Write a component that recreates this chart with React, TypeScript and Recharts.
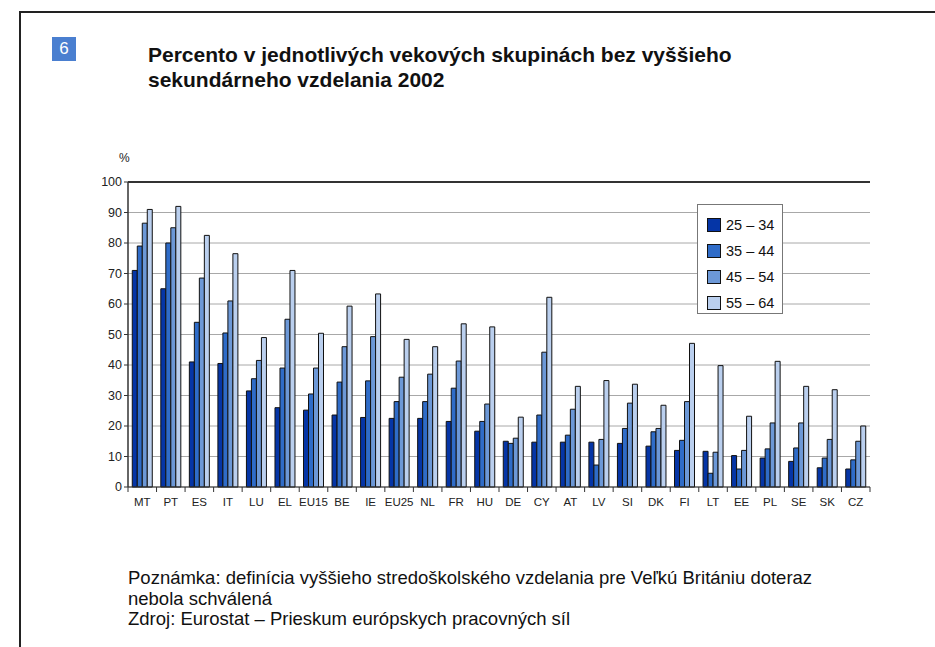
import { BarChart, Bar, XAxis, YAxis, CartesianGrid, Legend, ReferenceLine } from 'recharts'

const countries = ['MT', 'PT', 'ES', 'IT', 'LU', 'EL', 'EU15', 'BE', 'IE', 'EU25', 'NL', 'FR', 'HU', 'DE', 'CY', 'AT', 'LV', 'SI', 'DK', 'FI', 'LT', 'EE', 'PL', 'SE', 'SK', 'CZ']

const age2534 = [71, 65, 41, 40.5, 31.5, 26, 25.2, 23.6, 22.8, 22.5, 22.5, 21.5, 18.3, 15, 14.7, 14.7, 14.7, 14.3, 13.4, 12, 11.7, 10.3, 9.5, 8.4, 6.3, 5.9]
const age3544 = [79, 80, 54, 50.5, 35.5, 39, 30.5, 34.4, 34.8, 28, 28, 32.4, 21.5, 14.3, 23.6, 17, 7.2, 19.2, 18.1, 15.3, 4.5, 5.9, 12.5, 12.8, 9.5, 8.9]
const age4554 = [86.5, 85, 68.5, 61, 41.5, 55, 39, 46, 49.3, 36, 37, 41.3, 27.2, 16, 44.2, 25.5, 15.6, 27.5, 19.2, 28, 11.4, 12, 21, 21, 15.6, 15]
const age5564 = [91, 92, 82.5, 76.5, 49, 71, 50.4, 59.3, 63.3, 48.4, 46, 53.5, 52.5, 22.9, 62.2, 33, 34.9, 33.7, 26.8, 47.1, 39.8, 23.2, 41.2, 33, 31.9, 20]

const yTicks = [0, 10, 20, 30, 40, 50, 60, 70, 80, 90, 100]

const seriesNames = ['25 – 34', '35 – 44', '45 – 54', '55 – 64']
const seriesKeys = ['a', 'b', 'c', 'd']
const seriesColors = ['#0535a6', '#2f6cc8', '#6c98d7', '#bacfee']

const data = countries.map((name, i) => ({
  name,
  a: age2534[i],
  b: age3544[i],
  c: age4554[i],
  d: age5564[i],
}))

const FONT = '"Liberation Sans", Arial, sans-serif'
const PLOT_W = 742
const BAND = PLOT_W / countries.length

function CountryTick(props: any) {
  const { x, y, payload, index } = props
  const isLast = index === countries.length - 1
  return (
    <g>
      <line x1={x - BAND / 2} y1={y - 8} x2={x - BAND / 2} y2={y - 3} stroke="#333" />
      {isLast && <line x1={x + BAND / 2} y1={y - 8} x2={x + BAND / 2} y2={y - 3} stroke="#333" />}
      <text x={x} y={y + 11} textAnchor="middle" fontSize={11.5} fill="#222" fontFamily={FONT}>
        {payload.value}
      </text>
    </g>
  )
}

function LegendBox() {
  return (
    <div
      style={{
        width: 86,
        height: 110,
        border: '1px solid #777',
        background: '#fff',
        boxSizing: 'border-box',
        paddingTop: 7,
        paddingLeft: 9,
        fontFamily: FONT,
      }}
    >
      {seriesNames.map((n, i) => (
        <div key={n} style={{ display: 'flex', alignItems: 'center', height: 26 }}>
          <span
            style={{
              width: 12,
              height: 12,
              background: seriesColors[i],
              border: '1px solid #111',
              marginRight: 5,
            }}
          />
          <span style={{ fontSize: 14.5, color: '#111' }}>{n}</span>
        </div>
      ))}
    </div>
  )
}

export default function App() {
  return (
    <div style={{ position: 'absolute', left: 0, top: 0, width: 935, height: 647, background: '#fff', fontFamily: FONT }}>
      <div style={{ position: 'absolute', left: 19, top: 11, right: 0, bottom: 0, borderTop: '2px solid #222', borderLeft: '2px solid #222' }} />
      <div
        style={{
          position: 'absolute',
          left: 52,
          top: 37,
          width: 24,
          height: 24,
          background: '#4a7fd0',
          color: '#fff',
          fontSize: 17,
          lineHeight: '24px',
          textAlign: 'center',
        }}
      >
        6
      </div>
      <div style={{ position: 'absolute', left: 148, top: 42, fontSize: 21, fontWeight: 'bold', lineHeight: '25px', color: '#111', whiteSpace: 'nowrap' }}>
        Percento v jednotlivých vekových skupinách bez vyššieho
        <br />
        sekundárneho vzdelania 2002
      </div>
      <div style={{ position: 'absolute', left: 119, top: 151, fontSize: 12, color: '#222' }}>%</div>

      <div style={{ position: 'absolute', left: 0, top: 0 }}>
        <BarChart
          width={935}
          height={647}
          data={data}
          margin={{ top: 182, right: 65, left: 88, bottom: 130 }}
          barCategoryGap="15%"
          barGap={0}
        >
          <CartesianGrid horizontal vertical={false} stroke="#a8a8a8" />
          <XAxis dataKey="name" interval={0} tickLine={false} axisLine={{ stroke: '#333' }} height={30} tick={<CountryTick />} />
          <YAxis
            domain={[0, 100]}
            ticks={yTicks}
            width={40}
            tickSize={4}
            tickLine={{ stroke: '#333' }}
            axisLine={{ stroke: '#333', strokeWidth: 1.5 }}
            tick={{ fontSize: 12.5, fill: '#222', fontFamily: FONT }}
          />
          <YAxis
            yAxisId="right"
            orientation="right"
            domain={[0, 100]}
            ticks={yTicks}
            width={0}
            tick={false}
            tickLine={false}
            axisLine={{ stroke: '#444', strokeWidth: 1.5 }}
          />
          <ReferenceLine y={100} stroke="#333" strokeWidth={2} />
          <Legend
            layout="vertical"
            align="center"
            verticalAlign="middle"
            wrapperStyle={{ left: 697, top: 204, width: 86, height: 110 }}
            content={<LegendBox />}
          />
          {seriesKeys.map((k, i) => (
            <Bar key={k} dataKey={k} name={seriesNames[i]} fill={seriesColors[i]} stroke="#111" strokeWidth={1} isAnimationActive={false} />
          ))}
        </BarChart>
      </div>

      <div style={{ position: 'absolute', left: 128, top: 568, fontSize: 18.5, lineHeight: '20.5px', color: '#111', whiteSpace: 'nowrap' }}>
        Poznámka: definícia vyššieho stredoškolského vzdelania pre Veľkú Britániu doteraz
        <br />
        nebola schválená
        <br />
        Zdroj: Eurostat – Prieskum európskych pracovných síl
      </div>
    </div>
  )
}
